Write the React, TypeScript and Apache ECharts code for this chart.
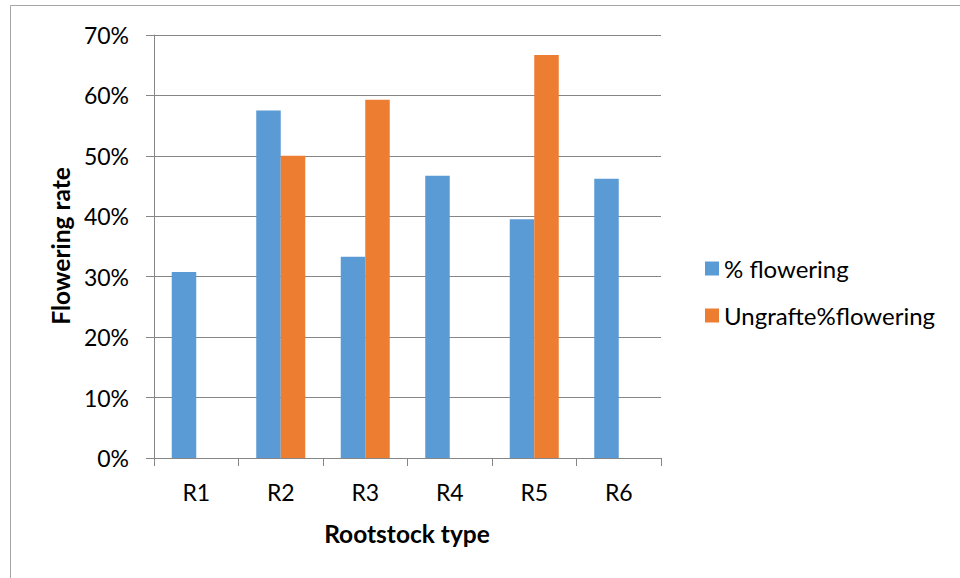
import React, { useEffect, useRef } from "react";
import * as echarts from "echarts";

// Rootstock categories and flowering rates (%)
const rootstocks = ["R1", "R2", "R3", "R4", "R5", "R6"];
const flowering = [30.8, 57.5, 33.3, 46.7, 39.5, 46.2];
const ungraftedFlowering: (number | null)[] = [null, 50.0, 59.3, null, 66.7, null];
const seriesNames = ["% flowering", "Ungrafte%flowering"];
const yTicks = { min: 0, max: 70, interval: 10 };

const FONT = "Lato, 'Noto Sans', 'DejaVu Sans', sans-serif";

export default function App() {
  const ref = useRef<HTMLDivElement>(null);

  useEffect(() => {
    if (!ref.current) return;
    const chart = echarts.init(ref.current, null, { renderer: "svg" });
    chart.setOption({
      animation: false,
      backgroundColor: "#ffffff",
      textStyle: { fontFamily: FONT },
      grid: { left: 154, top: 35, width: 507, height: 423, containLabel: false },
      legend: {
        orient: "vertical",
        left: 700,
        top: 251,
        icon: "rect",
        itemWidth: 14,
        itemHeight: 14,
        itemGap: 22,
        textStyle: { fontFamily: FONT, fontSize: 24, color: "#000", lineHeight: 25, padding: [0, 0, 0, 0] },
        data: seriesNames,
      },
      xAxis: {
        type: "category",
        data: rootstocks,
        axisLine: { lineStyle: { color: "#868686", width: 1 } },
        axisTick: { show: true, alignWithLabel: false, length: 8, lineStyle: { color: "#868686" } },
        axisLabel: { color: "#000", fontSize: 23, fontFamily: FONT, margin: 22 },
        splitLine: { show: false },
      },
      yAxis: {
        type: "value",
        min: yTicks.min,
        max: yTicks.max,
        interval: yTicks.interval,
        axisLine: { show: true, lineStyle: { color: "#868686", width: 1 } },
        axisTick: { show: true, length: 8, lineStyle: { color: "#868686" } },
        axisLabel: { color: "#000", fontSize: 23, fontFamily: FONT, margin: 25, formatter: (v: number) => `${v}%` },
        splitLine: { show: true, lineStyle: { color: "#868686", width: 1 } },
      },
      series: [
        {
          name: seriesNames[0],
          type: "bar",
          data: flowering,
          barGap: "0%",
          barCategoryGap: "42%",
          itemStyle: { color: "#5B9BD5" },
        },
        {
          name: seriesNames[1],
          type: "bar",
          data: ungraftedFlowering,
          barGap: "0%",
          barCategoryGap: "42%",
          itemStyle: { color: "#ED7D31" },
        },
      ],
      graphic: [
        {
          type: "rect",
          silent: true,
          shape: { x: 10.5, y: 5.5, width: 1000, height: 1000 },
          style: { fill: "none", stroke: "#a6a6a6", lineWidth: 1 },
          z: 100,
        },
        {
          type: "text",
          x: 60,
          y: 246,
          rotation: Math.PI / 2,
          style: {
            text: "Flowering rate",
            fontFamily: FONT,
            fontSize: 24.5,
            fontWeight: "bold",
            fill: "#000",
            align: "center",
            verticalAlign: "middle",
          },
        },
        {
          type: "text",
          x: 407,
          y: 533,
          style: {
            text: "Rootstock type",
            fontFamily: FONT,
            fontSize: 24.5,
            fontWeight: "bold",
            fill: "#000",
            align: "center",
            verticalAlign: "middle",
          },
        },
      ],
    });
    return () => chart.dispose();
  }, []);

  return (
    <div
      ref={ref}
      style={{ position: "fixed", left: 0, top: 0, width: 960, height: 578, background: "#fff" }}
    />
  );
}
